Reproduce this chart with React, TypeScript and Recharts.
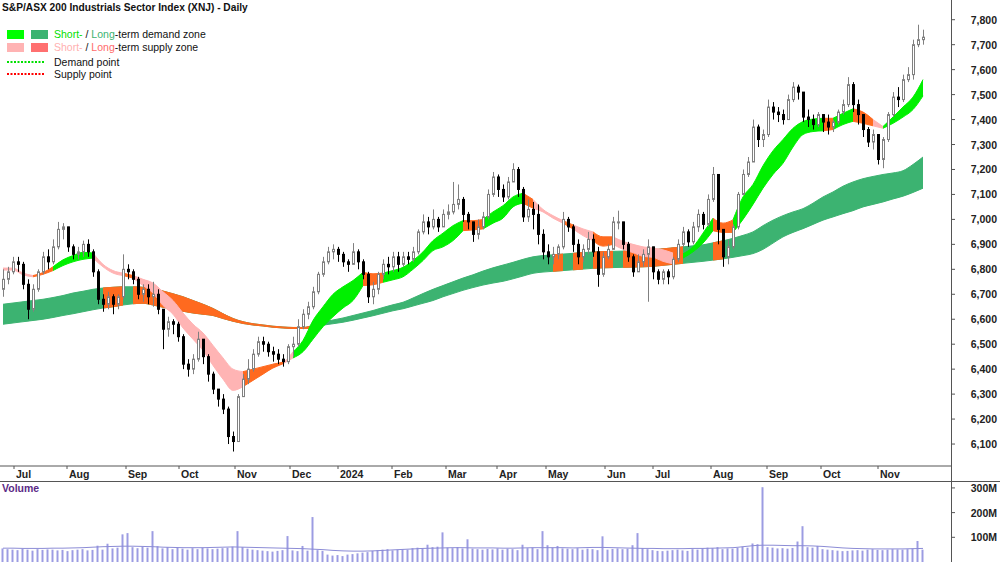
import React from 'react'
import { ComposedChart, Bar, Area, Line, XAxis, YAxis } from 'recharts'

// one candle = two trading days, late Jun 2023 .. late Nov 2024
const firstOpen = 6720
const closes = [
  6760, 6790, 6830, 6820, 6740, 6640, 6720, 6790, 6850, 6830,
  6890, 6960, 6970, 6890, 6860, 6870, 6900, 6870, 6790, 6680,
  6660, 6690, 6660, 6690, 6800, 6790, 6760, 6700, 6720, 6690,
  6700, 6640, 6560, 6590, 6580, 6530, 6420, 6400, 6440, 6520,
  6450, 6380, 6320, 6280, 6240, 6130, 6110, 6290, 6360, 6400,
  6460, 6510, 6500, 6470, 6460, 6440, 6430, 6490, 6500, 6570,
  6620, 6650, 6710, 6780, 6830, 6870, 6880, 6860, 6830, 6820,
  6870, 6830, 6780, 6690, 6720, 6780, 6820, 6810, 6850, 6820,
  6850, 6840, 6870, 6950, 6990, 6970, 7000, 6970, 7020, 7030,
  7060, 7080, 7020, 6990, 6940, 6970, 7010, 7100, 7170, 7120,
  7090, 7150, 7200, 7120, 7010, 7040, 7020, 6940, 6870, 6850,
  6860, 6890, 7000, 6970, 6900, 6850, 6880, 6920, 6870, 6780,
  6850, 6880, 6990, 6990, 6900, 6850, 6790, 6830, 6860, 6890,
  6790, 6760, 6790, 6770, 6840, 6900, 6950, 6910, 6970, 7020,
  6980, 7080, 7180, 6960, 6850, 6890, 6970, 7100, 7180, 7230,
  7370, 7320, 7340, 7450, 7430, 7420, 7400, 7480, 7530, 7510,
  7410, 7400, 7380, 7420, 7390, 7370, 7390, 7430, 7460, 7540,
  7460, 7420, 7360, 7310, 7340, 7240, 7320, 7420, 7490, 7480,
  7560, 7580, 7700, 7720, 7730,
]
const highs = [
  6800, 6810, 6850, 6850, 6830, 6760, 6740, 6800, 6870, 6880,
  6920, 6990, 6985, 6970, 6900, 6890, 6915, 6920, 6880, 6800,
  6700, 6710, 6700, 6700, 6860, 6820, 6800, 6770, 6740, 6740,
  6750, 6720, 6640, 6610, 6600, 6590, 6540, 6440, 6460, 6550,
  6520, 6460, 6390, 6320, 6300, 6250, 6150, 6300, 6380, 6440,
  6480, 6530, 6530, 6510, 6490, 6480, 6460, 6500, 6530, 6600,
  6640, 6670, 6730, 6790, 6850, 6890, 6900, 6890, 6870, 6840,
  6905, 6880, 6840, 6790, 6750, 6790, 6840, 6850, 6870, 6870,
  6870, 6870, 6890, 6960, 7020, 7010, 7040, 7010, 7040, 7060,
  7150, 7140, 7090, 7030, 6990, 7000, 7030, 7120, 7190, 7180,
  7140, 7170, 7225, 7210, 7130, 7080, 7070, 7060, 6960, 6900,
  6890, 6900, 7030, 7010, 6980, 6920, 6900, 6950, 6940, 6890,
  6870, 6900, 7010, 7035, 6990, 6910, 6860, 6860, 6880, 6920,
  6880, 6800, 6800, 6800, 6850, 6920, 6970, 6960, 6990, 7040,
  7030, 7100, 7210, 7180, 6960, 6920, 6980, 7110, 7200, 7250,
  7400, 7380, 7360, 7480, 7470, 7450, 7440, 7500, 7550, 7540,
  7500, 7440, 7420, 7430, 7420, 7420, 7400, 7440, 7480, 7570,
  7550, 7480, 7420, 7370, 7360, 7330, 7330, 7430, 7510, 7530,
  7580, 7610, 7720, 7780, 7760,
]
const lows = [
  6690, 6740, 6780, 6790, 6720, 6600, 6630, 6710, 6780, 6800,
  6820, 6880, 6920, 6870, 6840, 6840, 6850, 6850, 6770, 6660,
  6630, 6640, 6620, 6640, 6680, 6760, 6740, 6680, 6670, 6660,
  6650, 6620, 6480, 6530, 6540, 6510, 6400, 6370, 6380, 6430,
  6420, 6350, 6300, 6250, 6220, 6100, 6070, 6120, 6290, 6340,
  6390, 6450, 6470, 6450, 6430, 6420, 6410, 6420, 6450, 6490,
  6560, 6600, 6640, 6700, 6770, 6820, 6840, 6830, 6810, 6790,
  6820, 6800, 6760, 6665, 6660, 6700, 6760, 6780, 6790, 6790,
  6810, 6820, 6830, 6860, 6940, 6940, 6960, 6950, 6970, 7000,
  7020, 7040, 6990, 6960, 6910, 6920, 6960, 7000, 7090, 7090,
  7070, 7080, 7150, 7090, 6990, 6990, 6960, 6900, 6840, 6820,
  6820, 6840, 6880, 6950, 6870, 6820, 6830, 6860, 6850, 6730,
  6770, 6840, 6880, 6960, 6880, 6830, 6770, 6790, 6810, 6670,
  6760, 6740, 6740, 6740, 6760, 6830, 6890, 6890, 6900, 6950,
  6960, 6970, 7070, 6900, 6810, 6820, 6880, 6960, 7100, 7170,
  7230, 7290, 7290, 7330, 7400, 7390, 7380, 7400, 7470, 7480,
  7390, 7370, 7360, 7370, 7350, 7340, 7350, 7380, 7420, 7450,
  7430, 7380, 7330, 7290, 7280, 7220, 7205, 7310, 7410, 7450,
  7470, 7550, 7560, 7690, 7700,
]
// volume, millions
const volumes = [
  55, 52, 50, 48, 53, 50, 46, 52, 49, 51,
  50, 47, 49, 44, 48, 50, 52, 47, 49, 66,
  50, 74, 55, 58, 112, 117, 60, 56, 62, 58,
  125, 64, 55, 60, 52, 57, 54, 50, 56, 52,
  58, 55, 52, 54, 56, 58, 62, 125, 60, 54,
  50, 48, 46, 44, 42, 45, 48, 105, 47, 44,
  65, 46, 182, 48, 45, 30, 26, 28, 24, 30,
  32, 35, 38, 40, 45, 48, 50, 52, 47, 50,
  52, 50, 56, 58, 55, 70, 60, 62, 120, 58,
  56, 60, 55, 92, 54, 52, 50, 53, 51, 55,
  50, 54, 52, 48, 70, 56, 58, 52, 125, 68,
  58, 65, 55, 54, 52, 56, 50, 54, 52, 48,
  104, 50, 53, 55, 52, 54, 68, 117, 56, 52,
  48, 45, 44, 46, 48, 50, 47, 45, 52, 50,
  55, 58, 56, 60, 52, 55, 54, 57, 62, 58,
  75, 72, 303, 60, 58, 55, 56, 54, 57, 83,
  145, 60, 58, 65, 52, 50, 48, 46, 44, 45,
  47, 48, 46, 50, 52, 49, 48, 50, 52, 51,
  50, 52, 54, 85, 50,
]

// zone edges, one point every second candle
const ltUpper = [
  6660, 6665, 6670, 6675, 6680, 6687, 6695, 6705, 6712, 6720,
  6725, 6728, 6730, 6730, 6728, 6723, 6713, 6702, 6690, 6675,
  6660, 6643, 6622, 6603, 6590, 6582, 6577, 6572, 6569, 6567,
  6567, 6575, 6588, 6597, 6605, 6615, 6625, 6635, 6647, 6658,
  6668, 6685, 6703, 6720, 6735, 6750, 6765, 6778, 6793, 6806,
  6817, 6828, 6840, 6850, 6855, 6858, 6861, 6864, 6867, 6869,
  6871, 6872, 6873, 6875, 6876, 6878, 6882, 6886, 6890, 6894,
  6898, 6906, 6914, 6924, 6936, 6950, 6975, 6997, 7015, 7030,
  7043, 7065, 7090, 7110, 7133, 7150, 7163, 7172, 7180, 7186,
  7195, 7220, 7250,
]
const ltLower = [
  6580, 6585, 6590, 6595, 6600, 6607, 6615, 6622, 6630, 6638,
  6645, 6650, 6657, 6662, 6664, 6657, 6648, 6640, 6632, 6625,
  6620, 6615, 6603, 6592, 6583, 6577, 6573, 6568, 6565, 6563,
  6563, 6565, 6576, 6582, 6588, 6596, 6605, 6614, 6624, 6634,
  6642, 6653, 6664, 6675, 6690, 6703, 6716, 6727, 6737, 6745,
  6752, 6762, 6773, 6784, 6789, 6792, 6795, 6798, 6801, 6804,
  6806, 6807, 6808, 6809, 6810, 6812, 6816, 6820, 6824, 6828,
  6832, 6837, 6842, 6848, 6855, 6863, 6880, 6905, 6930, 6948,
  6963, 6980, 6997, 7010, 7023, 7035, 7050, 7060, 7070, 7082,
  7093, 7108, 7125,
]
const stUpper = [
  6805, 6805, 6785, 6775, 6787, 6810, 6838, 6855, 6868, 6865,
  6820, 6795, 6785, 6775, 6760, 6745, 6710, 6675, 6625, 6580,
  6545, 6495, 6445, 6400, 6390, 6400, 6410, 6420, 6428, 6470,
  6515, 6595, 6650, 6700, 6730, 6755, 6788, 6782, 6785, 6795,
  6808, 6835, 6870, 6915, 6945, 6975, 6995, 6995, 7000, 7030,
  7055, 7090, 7105, 7080, 7040, 7015, 6995, 6978, 6962, 6950,
  6930, 6930, 6912, 6900, 6890, 6885, 6878, 6865, 6862, 6890,
  6945, 7005, 6985, 6998, 7090, 7140, 7215, 7275, 7320, 7365,
  7392, 7402, 7405, 7405, 7425, 7443, 7430, 7400, 7372, 7410,
  7450, 7490, 7560,
]
const stLower = [
  6797, 6797, 6778, 6770, 6780, 6795, 6815, 6830, 6840, 6845,
  6810, 6785, 6775, 6765, 6735, 6705, 6655, 6620, 6565, 6520,
  6475, 6415, 6360, 6315, 6330, 6355, 6380, 6405, 6422, 6445,
  6470, 6520, 6570, 6610, 6645, 6675, 6735, 6738, 6748, 6758,
  6770, 6800, 6835, 6875, 6890, 6915, 6955, 6958, 6962, 6985,
  7005, 7050, 7065, 7045, 7030, 7005, 6985, 6962, 6935, 6915,
  6893, 6900, 6880, 6867, 6852, 6848, 6832, 6822, 6845, 6870,
  6905, 6955, 6948, 6948, 7000, 7060, 7125, 7180, 7225, 7290,
  7340, 7352, 7355, 7360, 7380, 7393, 7385, 7375, 7365, 7385,
  7410, 7440, 7495,
]
const volAvg = [
  56, 56, 55, 55, 55, 56, 56, 57, 58, 60,
  62, 63, 64, 64, 63, 62, 60, 59, 58, 58,
  58, 59, 60, 61, 60, 59, 58, 57, 56, 55,
  54, 52, 50, 47, 45, 44, 44, 45, 47, 49,
  51, 53, 55, 56, 57, 58, 58, 57, 57, 57,
  56, 56, 57, 58, 58, 58, 58, 57, 58, 59,
  59, 58, 57, 56, 55, 55, 54, 54, 54, 55,
  55, 56, 57, 58, 62, 66, 68, 68, 67, 66,
  66, 65, 63, 60, 57, 55, 54, 53, 53, 53,
  53, 54, 55,
]

// runs of zone points (inclusive) by colour
const ltSupplyRuns = [[10, 12], [13, 32], [55, 56], [57, 58], [59, 61], [62, 68], [71, 72]]
const stDemandRuns = [[5, 9], [29, 36], [38, 46], [48, 52], [68, 71], [73, 82], [83, 85], [88, 92]]
const stSupplyRuns = [[0, 3], [9, 12], [13, 24], [27, 29], [53, 56], [57, 59], [61, 67], [87, 88]]
const stMixedRuns = [[3, 5], [12, 13], [24, 28], [36, 38], [46, 48], [52, 53], [56, 57], [59, 61], [67, 68], [71, 73], [82, 83], [85, 87]]

const monthTicks = [2.2, 12.8, 24.6, 35.2, 46.4, 57.4, 67, 77.8, 88.6, 98.8, 108.6, 120.4, 130, 141.6, 152.8, 163.6, 175]
const monthLabels = ['Jul', 'Aug', 'Sep', 'Oct', 'Nov', 'Dec', '2024', 'Feb', 'Mar', 'Apr', 'May', 'Jun', 'Jul', 'Aug', 'Sep', 'Oct', 'Nov']
const priceTicks = [6100, 6200, 6300, 6400, 6500, 6600, 6700, 6800, 6900, 7000, 7100, 7200, 7300, 7400, 7500, 7600, 7700, 7800]
const volTicks = [100, 200, 300]

const FONT = "'Liberation Sans', Arial, sans-serif"
const ORANGE = '#ff6a1f'
const PINK = '#ffb4b4'
const LIME = '#00f000'
const SEA = '#3cb371'

const candles = closes.map((c, i) => {
  const o = i === 0 ? firstOpen : closes[i - 1]
  const h = Math.max(highs[i], o, c)
  const l = Math.min(lows[i], o, c)
  return { x: i, o, c, h, l, range: [l, h], v: volumes[i] * 1e6 }
})

const zone = ltUpper.map((u, j) => ({
  x: j * 2,
  lt: [ltLower[j], u],
  st: [stLower[j], stUpper[j]],
  va: volAvg[j] * 1e6,
}))
const run = ([a, b]: number[]) => zone.slice(a, b + 1)

const X_DOMAIN = [-0.6, 189.6]

const Candle = (props: any) => {
  const { x, y, width, height, payload } = props
  if (x == null || y == null || !payload) return null
  const top = Math.min(y, y + height)
  const hgt = Math.abs(height)
  const { o, c, h, l } = payload
  const k = h > l ? hgt / (h - l) : 0
  const cx = Math.round(x + width / 2) + 0.5
  const bTop = top + (h - Math.max(o, c)) * k
  const bBot = top + (h - Math.min(o, c)) * k
  const up = c >= o
  const col = up ? '#808080' : '#000'
  return (
    <g>
      <line x1={cx} x2={cx} y1={top} y2={top + hgt} stroke={col} strokeWidth={1} />
      <rect x={cx - 1} y={bTop} width={2} height={Math.max(bBot - bTop, 1)}
        fill={up ? '#fff' : '#000'} stroke={col} strokeWidth={1} />
    </g>
  )
}

const MonthTick = (props: any) => {
  const { x, payload } = props
  const idx = monthTicks.indexOf(payload.value)
  return (
    <g>
      <line x1={x} x2={x} y1={466} y2={469} stroke="#555" />
      <text x={x + 2} y={478} fontFamily={FONT} fontSize={10.5} fontWeight="bold" fill="#222">
        {monthLabels[idx]}
      </text>
    </g>
  )
}

const PriceTick = (props: any) => {
  const { y, payload } = props
  return (
    <g>
      <line x1={951} x2={955} y1={y} y2={y} stroke="#555" />
      <text x={997} y={y + 4} textAnchor="end" fontFamily={FONT} fontSize={10.5} fontWeight="bold" fill="#222">
        {payload.value.toLocaleString('en-US')}
      </text>
    </g>
  )
}

const VolTick = (props: any) => {
  const { y, payload } = props
  return (
    <g>
      <line x1={951} x2={955} y1={y} y2={y} stroke="#555" />
      <text x={997} y={y + 4} textAnchor="end" fontFamily={FONT} fontSize={10.5} fontWeight="bold" fill="#222">
        {`${payload.value / 1e6}M`}
      </text>
    </g>
  )
}

const bandArea = (key: string, k: string, data: any[], color: string) => (
  <Area key={key} data={data} dataKey={k} type="monotone" fill={color} fillOpacity={1}
    stroke={color} strokeWidth={1} dot={false} activeDot={false} isAnimationActive={false} />
)

function Legend() {
  const row = { fontFamily: FONT, fontSize: 10.5 }
  return (
    <svg width={260} height={84} style={{ position: 'absolute', left: 0, top: 0 }}>
      <text x={2} y={11} fontFamily={FONT} fontSize={10.2} fontWeight="bold" fill="#111">
        S&amp;P/ASX 200 Industrials Sector Index (XNJ) - Daily
      </text>
      <rect x={7} y={30} width={17} height={9} fill="#00ff00" />
      <rect x={31} y={30} width={17} height={9} fill={SEA} />
      <text x={54} y={38} {...row} fill="#111">
        <tspan fill="#00e000">Short-</tspan> / <tspan fill={SEA}>Long</tspan>-term demand zone
      </text>
      <rect x={7} y={43} width={17} height={9} fill="#ffb3b3" />
      <rect x={31} y={43} width={17} height={9} fill="#ff7070" />
      <text x={54} y={51} {...row} fill="#111">
        <tspan fill="#ffb0b0">Short-</tspan> / <tspan fill="#ff6b6b">Long</tspan>-term supply zone
      </text>
      <line x1={7} x2={45} y1={62} y2={62} stroke="#00e000" strokeWidth={2} strokeDasharray="2 1.5" />
      <text x={54} y={66} {...row} fill="#111">Demand point</text>
      <line x1={7} x2={45} y1={74} y2={74} stroke="#ff0000" strokeWidth={2} strokeDasharray="2 1.5" />
      <text x={54} y={78} {...row} fill="#111">Supply point</text>
    </svg>
  )
}

export default function App() {
  return (
    <div style={{ position: 'absolute', left: 0, top: 0, width: 1000, height: 562, background: '#fff', overflow: 'hidden' }}>
      <div style={{ position: 'absolute', left: 0, top: 0 }}>
        <ComposedChart width={1000} height={481} data={candles} margin={{ top: 0, right: 0, left: 0, bottom: 0 }}>
          <XAxis type="number" dataKey="x" domain={X_DOMAIN} allowDataOverflow ticks={monthTicks} interval={0}
            height={15} axisLine={{ stroke: '#555' }} tickLine={false} tick={<MonthTick />} />
          <YAxis orientation="right" type="number" domain={[6012, 7879]} allowDataOverflow ticks={priceTicks}
            width={49} axisLine={false} tickLine={false} tick={<PriceTick />} interval={0} />
          {bandArea('lt', 'lt', zone, SEA)}
          {ltSupplyRuns.map((r, k) => bandArea('lts' + k, 'lt', run(r), ORANGE))}
          {stDemandRuns.map((r, k) => bandArea('std' + k, 'st', run(r), LIME))}
          {stSupplyRuns.map((r, k) => bandArea('sts' + k, 'st', run(r), PINK))}
          {stMixedRuns.map((r, k) => bandArea('stm' + k, 'st', run(r), ORANGE))}
          <Bar dataKey="range" barSize={3} shape={<Candle />} isAnimationActive={false} />
        </ComposedChart>
      </div>
      <div style={{ position: 'absolute', left: 0, top: 481 }}>
        <ComposedChart width={1000} height={81} data={candles} margin={{ top: 0, right: 0, left: 0, bottom: 0 }}>
          <XAxis type="number" dataKey="x" domain={X_DOMAIN} allowDataOverflow hide />
          <YAxis orientation="right" type="number" domain={[0, 328e6]} allowDataOverflow ticks={volTicks.map(v => v * 1e6)}
            width={49} axisLine={false} tickLine={false} tick={<VolTick />} interval={0} />
          <Bar dataKey="v" barSize={2} fill="#9c9ce2" isAnimationActive={false} />
          <Line data={zone} dataKey="va" type="monotone" stroke="#8c8cd6" strokeWidth={1} dot={false} isAnimationActive={false} />
        </ComposedChart>
      </div>
      <div style={{ position: 'absolute', left: 951, top: 0, width: 1, height: 562, background: '#555' }} />
      <div style={{ position: 'absolute', left: 0, top: 481, width: 1000, height: 1, background: '#555' }} />
      <div style={{ position: 'absolute', left: 2, top: 482, fontFamily: FONT, fontSize: 10.5, fontWeight: 'bold', color: '#5b2a86' }}>
        Volume
      </div>
      <Legend />
    </div>
  )
}
